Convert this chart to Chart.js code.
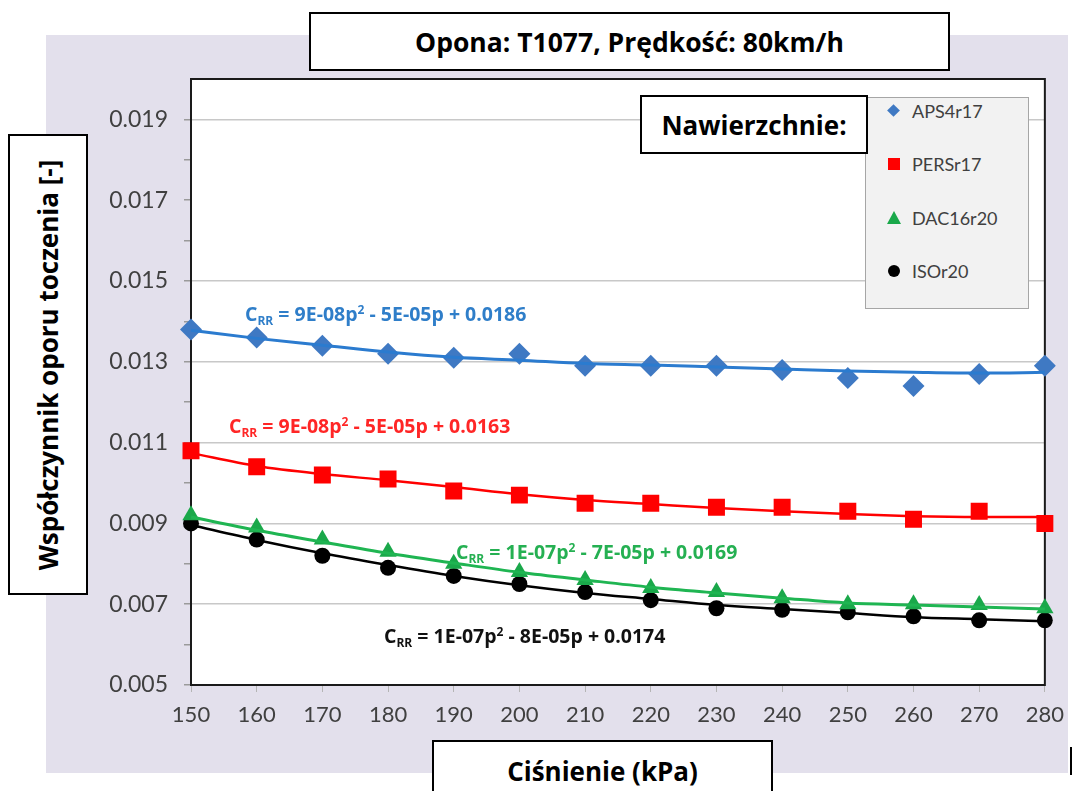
<!DOCTYPE html>
<html>
<head>
<meta charset="utf-8">
<script src="https://cdn.jsdelivr.net/npm/chart.js@4.4.0/dist/chart.umd.min.js"></script>
<style>
  body { margin: 0; background: #fff; }
  #wrap { position: relative; width: 1074px; height: 791px; overflow: hidden; font-family: Lato, "Open Sans", sans-serif; }
  #bg { position: absolute; left: 46px; top: 35px; width: 1022px; height: 738px; background: #e3e0ec; }
  #chart { position: absolute; left: 0; top: 0; }
  .box { position: absolute; background: #fff; border: 2px solid #000; box-sizing: border-box; font-family: "Open Sans", sans-serif;
         font-weight: bold; color: #000; display: flex; align-items: center; justify-content: center; font-size: 26px; }
  #title { left: 309px; top: 12px; width: 641px; height: 59px; font-size: 26.5px; }
  #ytitle { left: 8px; top: 134px; width: 80px; height: 461px; }
  #ytitle span { transform: rotate(-90deg); white-space: nowrap; display: block; }
  #xtitle { left: 432px; top: 740px; width: 341px; height: 70px; align-items: flex-start; padding-top: 11px; }
  #nawierzchnie { left: 640px; top: 95px; width: 228px; height: 59px; z-index: 3; }
  #legend { position: absolute; left: 865px; top: 97px; width: 164px; height: 212px; background: #f2f2f2;
            border: 1px solid #a6a6a6; box-sizing: border-box; z-index: 2; }
  .row { position: absolute; left: 0; height: 20px; display: flex; align-items: center; font-size: 18px; color: #404040; }
  .mk { width: 20px; height: 20px; margin-left: 18px; margin-right: 8px; position: relative; }
  .eq { position: absolute; font-family: "Open Sans", sans-serif; font-weight: bold; font-size: 19.5px; line-height: 22px; white-space: nowrap; z-index: 1; }
  .eq sub { font-size: 12px; vertical-align: -4px; }
  .eq sup { font-size: 12px; vertical-align: 7px; }
  #bar { position: absolute; left: 1070px; top: 747px; width: 2px; height: 28px; background: #000; }
</style>
</head>
<body>
<div id="wrap">
  <div id="bg"></div>
  <canvas id="chart" width="1074" height="791"></canvas>
  <div class="box" id="title">Opona: T1077, Prędkość: 80km/h</div>
  <div class="box" id="ytitle"><span>Współczynnik oporu toczenia [-]</span></div>
  <div class="box" id="xtitle">Ciśnienie (kPa)</div>
  <div class="box" id="nawierzchnie">Nawierzchnie:</div>
  <div id="legend"></div>
  <div class="eq" style="left:245px;top:299px;color:#2f7ec9">C<sub>RR</sub> = 9E-08p<sup>2</sup> - 5E-05p + 0.0186</div>
  <div class="eq" style="left:229px;top:411px;color:#ff2626">C<sub>RR</sub> = 9E-08p<sup>2</sup> - 5E-05p + 0.0163</div>
  <div class="eq" style="left:456px;top:537px;color:#25b052">C<sub>RR</sub> = 1E-07p<sup>2</sup> - 7E-05p + 0.0169</div>
  <div class="eq" style="left:384px;top:621px;color:#111">C<sub>RR</sub> = 1E-07p<sup>2</sup> - 8E-05p + 0.0174</div>
  <div id="bar"></div>
</div>
<script>
// ciśnienie (kPa)
const pressures = [150, 160, 170, 180, 190, 200, 210, 220, 230, 240, 250, 260, 270, 280];

const aps4r17  = [0.0138, 0.0136, 0.0134, 0.0132, 0.0131, 0.0132, 0.0129, 0.0129, 0.0129, 0.0128, 0.0126, 0.0124, 0.0127, 0.0129];
const persr17  = [0.0108, 0.0104, 0.0102, 0.0101, 0.0098, 0.0097, 0.0095, 0.0095, 0.0094, 0.0094, 0.0093, 0.0091, 0.0093, 0.0090];
const dac16r20 = [0.0092, 0.0089, 0.0086, 0.0083, 0.0080, 0.0078, 0.0076, 0.0074, 0.0073, 0.00715, 0.0070, 0.0070, 0.00698, 0.0069];
const isor20   = [0.0090, 0.0086, 0.0082, 0.0079, 0.0077, 0.0075, 0.0073, 0.0071, 0.0069, 0.00686, 0.0068, 0.0067, 0.0066, 0.0066];

// linie trendu (też)
const aps4r17Trend  = [0.01378, 0.01358, 0.01341, 0.01324, 0.01311, 0.01304, 0.01296, 0.01292, 0.01287, 0.01282, 0.01277, 0.01274, 0.01272, 0.01274];
const persr17Trend  = [0.01074, 0.01042, 0.01022, 0.01007, 0.00990, 0.00972, 0.00958, 0.00948, 0.00938, 0.00930, 0.00923, 0.00918, 0.00916, 0.00916];
const dac16r20Trend = [0.00916, 0.00883, 0.00854, 0.00826, 0.00802, 0.00779, 0.00760, 0.00742, 0.00728, 0.00715, 0.00703, 0.00698, 0.00693, 0.00688];
const isor20Trend   = [0.00896, 0.00859, 0.00826, 0.00797, 0.00770, 0.00747, 0.00728, 0.00713, 0.00698, 0.00688, 0.00678, 0.00668, 0.00663, 0.00658];

// os Y
const yMin = 0.005, yMax = 0.020, yStep = 0.001;
const gridValues = [0.007, 0.009, 0.011, 0.013, 0.015, 0.019]; // na 0.017 nie ma linii

const seriesNames = ['APS4r17', 'PERSr17', 'DAC16r20', 'ISOr20'];

const ctx = document.getElementById('chart').getContext('2d');

// biale tlo obszaru wykresu + ramka
const plotFrame = {
  id: 'plotFrame',
  beforeDraw(chart) {
    const a = chart.chartArea, c = chart.ctx;
    c.save();
    c.fillStyle = '#fff';
    c.fillRect(a.left, a.top, a.right - a.left, a.bottom - a.top);
    c.restore();
  },
  beforeDatasetsDraw(chart) {
    const a = chart.chartArea, c = chart.ctx;
    c.save();
    c.strokeStyle = '#1a1a1a';
    c.lineWidth = 2;
    c.strokeRect(a.left, a.top, a.right - a.left, a.bottom - a.top);
    c.restore();
  }
};

const trend = (data, color, width) => ({
  data, borderColor: color, borderWidth: width, pointRadius: 0,
  tension: 0.4, cubicInterpolationMode: 'monotone', fill: false
});
const points = (label, data, color, style, radius) => ({
  label, data, showLine: false, pointStyle: style, pointRadius: radius,
  pointBackgroundColor: color, pointBorderWidth: 0, borderColor: color
});

const chart = new Chart(ctx, {
  type: 'line',
  data: {
    labels: pressures,
    datasets: [
      trend(aps4r17Trend, '#2b7bcf', 3),
      trend(persr17Trend, '#ff0000', 2.5),
      trend(dac16r20Trend, '#1fb552', 3),
      trend(isor20Trend, '#000000', 2.5),
      points(seriesNames[0], aps4r17, '#3f79c3', 'rectRot', 11),
      points(seriesNames[1], persr17, '#ff0000', 'rect', 12),
      points(seriesNames[2], dac16r20, '#1aa84a', 'triangle', 10),
      points(seriesNames[3], isor20, '#000000', 'circle', 8)
    ]
  },
  options: {
    responsive: false,
    animation: false,
    layout: { padding: { left: 0, top: 79, right: 26, bottom: 0 } },
    plugins: { legend: { display: false }, tooltip: { enabled: false } },
    scales: {
      x: {
        type: 'category',
        offset: false,
        border: { display: false },
        grid: { drawOnChartArea: false, tickLength: 7, tickColor: '#b5b5b5' },
        ticks: { color: '#404040', font: { family: 'Lato', size: 22 }, padding: 10, maxRotation: 0, autoSkip: false },
        afterFit: s => { s.height = 106; }
      },
      y: {
        min: yMin, max: yMax,
        border: { display: false },
        grid: {
          color: c => gridValues.some(v => Math.abs(v - c.tick.value) < 1e-7) ? '#c8c8c8' : 'rgba(0,0,0,0)',
          lineWidth: 1.5,
          tickLength: 7,
          tickColor: c => Math.round(c.tick.value * 1000) >= 20 ? 'rgba(0,0,0,0)' : '#9a9a9a'
        },
        ticks: {
          stepSize: yStep,
          color: '#404040',
          font: { family: 'Lato', size: 23 },
          padding: 16,
          autoSkip: false,
          callback: v => (Math.round(v * 1000) % 2 === 1) ? v.toFixed(3) : ''
        },
        afterFit: s => { s.width = 191; }
      }
    }
  },
  plugins: [plotFrame]
});

// legenda
const legendEl = document.getElementById('legend');
const legendMarks = [
  '<div style="position:absolute;left:5px;top:5px;width:9px;height:9px;background:#3f79c3;transform:rotate(45deg)"></div>',
  '<div style="position:absolute;left:4px;top:4px;width:12px;height:12px;background:#ff0000"></div>',
  '<div style="position:absolute;left:3px;top:3px;width:0;height:0;border-left:7px solid transparent;border-right:7px solid transparent;border-bottom:13px solid #1aa84a"></div>',
  '<div style="position:absolute;left:4px;top:4px;width:12px;height:12px;border-radius:50%;background:#000"></div>'
];
const legendRowsTop = [3, 56, 110, 163];
seriesNames.forEach((name, i) => {
  const row = document.createElement('div');
  row.className = 'row';
  row.style.top = legendRowsTop[i] + 'px';
  row.innerHTML = '<div class="mk">' + legendMarks[i] + '</div>' + name;
  legendEl.appendChild(row);
});
</script>
</body>
</html>
